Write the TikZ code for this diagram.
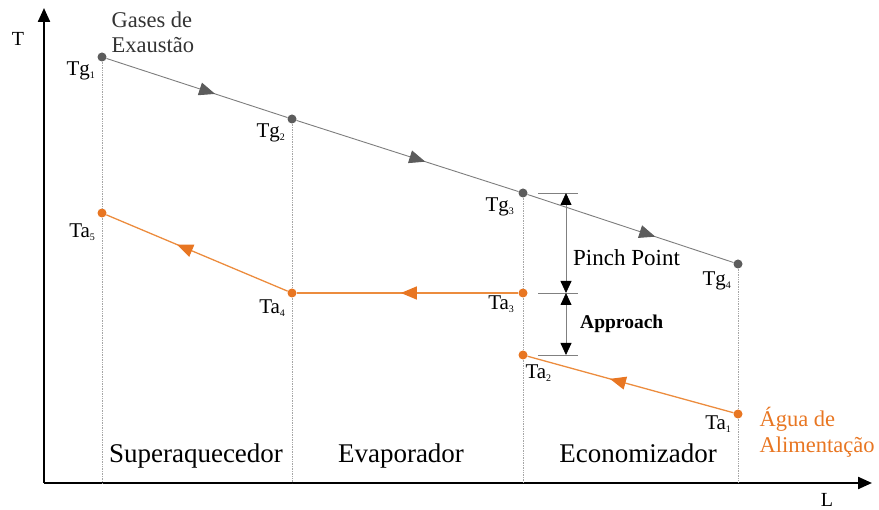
\documentclass[tikz,border=0pt]{standalone}
\usepackage{fontspec}
\setmainfont{Liberation Serif}
\usetikzlibrary{arrows.meta, positioning, decorations.markings}
\definecolor{gasdot}{RGB}{92,92,92}
\definecolor{gasline}{RGB}{125,125,125}
\definecolor{water}{RGB}{232,118,34}
\definecolor{waterline}{RGB}{236,140,62}
\newcommand{\ptsub}[1]{\textsubscript{\fontsize{10}{10}\selectfont #1}}

\begin{document}
\begin{tikzpicture}[x=1pt, y=-1pt,
    gdot/.style = {circle, fill=gasdot, inner sep=0pt, minimum size=9pt},
    wdot/.style = {circle, fill=water, inner sep=0pt, minimum size=9pt},
    axis/.style = {draw=black, line width=2.3pt, -{Triangle[length=14pt, width=12pt]}},
    guide/.style = {draw=gray!70, densely dotted, line width=0.7pt},
    gasflow/.style = {draw=gasline, line width=0.9pt, postaction={decorate},
        decoration={markings, mark=at position #1 with {\arrow{Triangle[length=16pt, width=13pt, color=gasdot]}}}},
    waterflow/.style = {draw=waterline, line width=1.3pt, postaction={decorate},
        decoration={markings, mark=at position #1 with {\arrow{Triangle[length=16pt, width=13pt, color=water]}}}},
    dim/.style = {draw=gray, line width=0.8pt, {Triangle[length=12pt, width=11pt, color=black]}-{Triangle[length=12pt, width=11pt, color=black]}},
    tick/.style = {draw=gray, line width=0.8pt},
    tlabel/.style = {inner sep=1pt, font=\fontsize{21}{24}\selectfont},
    zone/.style = {inner sep=0pt, anchor=base, font=\fontsize{27}{30}\selectfont}
]
\useasboundingbox (0,0) rectangle (879,510);

% axes
\coordinate (o) at (44,483);
\coordinate (ytop) at (44,8);
\coordinate (xend) at (872,483);
\draw [axis] (o) -- (ytop);
\draw [axis] (o) -- (xend);
\node (T) [tlabel, font=\fontsize{20}{24}\selectfont] at (18,39) {T};
\node (L) [tlabel, font=\fontsize{20}{24}\selectfont] at (827,500) {L};

% gas points
\node (tg1) [gdot] at (102,57) {};
\node (tg2) [gdot] at (292,119) {};
\node (tg3) [gdot] at (523,193) {};
\node (tg4) [gdot] at (738,264) {};

% water points
\node (ta5) [wdot] at (102,213) {};
\node (ta4) [wdot] at (292,293) {};
\node (ta3) [wdot] at (523,293) {};
\node (ta2) [wdot] at (523,355) {};
\node (ta1) [wdot] at (738,414) {};

% guides
\draw [guide] (tg1) -- (ta5);
\draw [guide] (ta5) -- (ta5 |- o);
\draw [guide] (tg2) -- (ta4);
\draw [guide] (ta4) -- (ta4 |- o);
\draw [guide] (tg3) -- (ta3);
\draw [guide] (ta3) -- (ta2);
\draw [guide] (ta2) -- (ta2 |- o);
\draw [guide] (tg4) -- (ta1);
\draw [guide] (ta1) -- (ta1 |- o);

% flows
\draw [gasflow=0.6] (tg1) -- (tg2);
\draw [gasflow=0.58] (tg2) -- (tg3);
\draw [gasflow=0.62] (tg3) -- (tg4);
\draw [waterflow=0.6] (ta1) -- (ta2);
\draw [waterflow=0.53] (ta3) -- (ta4);
\draw [waterflow=0.61] (ta4) -- (ta5);

% point labels
\node (ltg1) [tlabel, below left=0pt and 2pt of tg1] {Tg\ptsub{1}};
\node (ltg2) [tlabel, below left=0pt and 2pt of tg2] {Tg\ptsub{2}};
\node (ltg3) [tlabel, below left=0pt and 4pt of tg3] {Tg\ptsub{3}};
\node (ltg4) [tlabel, below left=3pt and 2pt of tg4] {Tg\ptsub{4}};
\node (lta5) [tlabel, below left=6pt and 2pt of ta5] {Ta\ptsub{5}};
\node (lta4) [tlabel, below left=2pt and 2pt of ta4] {Ta\ptsub{4}};
\node (lta3) [tlabel, below left=-2pt and 4pt of ta3] {Ta\ptsub{3}};
\node (lta2) [tlabel, below right=5pt and -2pt of ta2] {Ta\ptsub{2}};
\node (lta1) [tlabel, below left=-3pt and 2pt of ta1] {Ta\ptsub{1}};

\node (gas) [inner sep=1pt, align=left, font=\fontsize{22.5}{25}\selectfont, text=black!80,
    above right=0pt and 5pt of tg1] {Gases de\\Exaustão};
\node (agua) [inner sep=1pt, align=left, font=\fontsize{22.5}{26}\selectfont, text=water,
    below right=-11pt and 17pt of ta1] {Água de\\Alimentação};

% pinch point and approach
\coordinate (p1) at (566,193);
\coordinate (p2) at (566,293);
\coordinate (p3) at (566,355);
\draw [tick] ([xshift=-28pt]p1) -- ([xshift=12pt]p1);
\draw [tick] ([xshift=-28pt]p2) -- ([xshift=12pt]p2);
\draw [tick] ([xshift=-28pt]p3) -- ([xshift=12pt]p3);
\draw [dim] (p1) -- (p2);
\draw [dim] (p2) -- (p3);
\node (pinch) [inner sep=0pt, anchor=base west, font=\fontsize{23}{26}\selectfont] at (573,266) {Pinch Point};
\node (approach) [inner sep=0pt, anchor=base west, font=\fontsize{19.5}{22}\selectfont\bfseries] at (580,329) {Approach};

% zones
\node (sup) [zone] at (196,463) {Superaquecedor};
\node (eva) [zone] at (401,463) {Evaporador};
\node (eco) [zone] at (638,463) {Economizador};

\end{tikzpicture}
\end{document}
